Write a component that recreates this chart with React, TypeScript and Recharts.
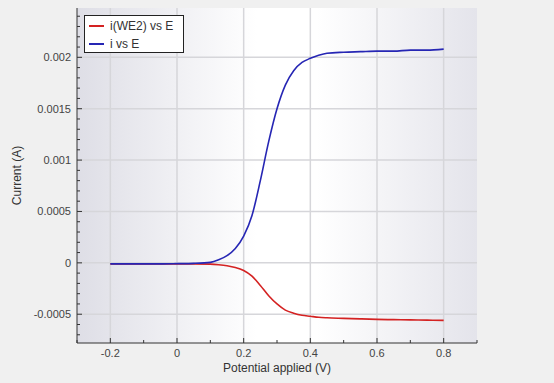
import React from 'react';
import { ComposedChart, Line, XAxis, YAxis, ReferenceLine, ReferenceArea } from 'recharts';

// potential applied (V)
const potential = [
  -0.2, -0.15, -0.1, -0.05, 0, 0.05, 0.1, 0.125, 0.15, 0.175, 0.2, 0.225, 0.25, 0.275,
  0.3, 0.325, 0.35, 0.375, 0.4, 0.425, 0.45, 0.5, 0.55, 0.6, 0.65, 0.7, 0.75, 0.8,
];
// i vs E (A)
const iTotal = [
  -0.00001, -0.00001, -0.00001, -0.00001, -0.000008, -0.000005, 0.000005, 0.00003, 0.00007,
  0.00014, 0.00026, 0.00046, 0.0008, 0.00118, 0.0015, 0.00173, 0.00187, 0.00195, 0.00199,
  0.00202, 0.00204, 0.00205, 0.002055, 0.00206, 0.00206, 0.00207, 0.00207, 0.00208,
];
// i(WE2) vs E (A)
const iWE2 = [
  -0.00001, -0.00001, -0.00001, -0.00001, -0.00001, -0.00001, -0.000012, -0.000018, -0.000028,
  -0.000045, -0.000075, -0.00013, -0.00022, -0.00032, -0.0004, -0.00046, -0.00049, -0.00051,
  -0.00052, -0.00053, -0.000535, -0.00054, -0.000545, -0.00055, -0.000553, -0.000555,
  -0.000557, -0.00056,
];

const xMajor = [-0.2, 0, 0.2, 0.4, 0.6, 0.8];
const xAllTicks = [-0.3, -0.2, -0.1, 0, 0.1, 0.2, 0.3, 0.4, 0.5, 0.6, 0.7, 0.8, 0.9];
const yMajor = [-0.0005, 0, 0.0005, 0.001, 0.0015, 0.002];
const yAllTicks = [
  -0.0007, -0.0006, -0.0005, -0.0004, -0.0003, -0.0002, -0.0001, 0, 0.0001, 0.0002, 0.0003,
  0.0004, 0.0005, 0.0006, 0.0007, 0.0008, 0.0009, 0.001, 0.0011, 0.0012, 0.0013, 0.0014,
  0.0015, 0.0016, 0.0017, 0.0018, 0.0019, 0.002, 0.0021, 0.0022, 0.0023, 0.0024,
];
const xDomain: [number, number] = [-0.3, 0.9];
const yDomain: [number, number] = [-0.00078, 0.00248];

const seriesNames = ['i(WE2) vs E', 'i vs E'];
const seriesColors = ['#d42222', '#2626b4'];

const data = potential.map((e, i) => ({ e, total: iTotal[i], we2: iWE2[i] }));

const FONT = 'Arial, "Liberation Sans", sans-serif';
const TICK_MARGIN = 6;

const isMajor = (list: number[], v: number) => list.some(m => Math.abs(m - v) < 1e-9);

const BottomTick = (props: any) => {
  const { x, y, payload } = props;
  const axisY = y - TICK_MARGIN;
  const major = isMajor(xMajor, payload.value);
  return (
    <g>
      <line x1={x} x2={x} y1={axisY} y2={axisY - (major ? 5 : 3)} stroke="#333" />
      {major && (
        <text x={x} y={axisY + 10} textAnchor="middle" dominantBaseline="central" fontSize={11} fill="#444" fontFamily={FONT}>
          {payload.value}
        </text>
      )}
    </g>
  );
};

const TopTick = (props: any) => {
  const { x, y, payload } = props;
  const major = isMajor(xMajor, payload.value);
  return <line x1={x} x2={x} y1={y} y2={y + (major ? 5 : 3)} stroke="#333" />;
};

const LeftTick = (props: any) => {
  const { x, y, payload } = props;
  const axisX = x + TICK_MARGIN;
  const major = isMajor(yMajor, payload.value);
  return (
    <g>
      <line x1={axisX} x2={axisX + (major ? 5 : 3)} y1={y} y2={y} stroke="#333" />
      {major && (
        <text x={axisX - 6} y={y} textAnchor="end" dominantBaseline="central" fontSize={11} fill="#444" fontFamily={FONT}>
          {payload.value}
        </text>
      )}
    </g>
  );
};

const RightTick = (props: any) => {
  const { x, y, payload } = props;
  const major = isMajor(yMajor, payload.value);
  return <line x1={x} x2={x - (major ? 5 : 3)} y1={y} y2={y} stroke="#333" />;
};

// legend box drawn over the plot, top-left corner
const LegendBox = () => (
  <div
    style={{
      position: 'absolute',
      left: 84,
      top: 15,
      width: 98,
      height: 36,
      background: '#fff',
      border: '1px solid #222',
      fontFamily: FONT,
      fontSize: 12,
      color: '#333',
    }}
  >
    {seriesNames.map((name, i) => (
      <div key={name} style={{ display: 'flex', alignItems: 'center', height: 18, marginTop: i === 0 ? 1 : 0 }}>
        <div style={{ width: 15, height: 2, background: seriesColors[i], marginLeft: 4, marginRight: 6 }} />
        <span>{name}</span>
      </div>
    ))}
  </div>
);

export default function App() {
  return (
    <div style={{ position: 'fixed', left: 0, top: 0, width: 554, height: 383, background: '#f0f0f0' }}>
      <ComposedChart width={554} height={383} data={data} margin={{ top: 8, right: 77, bottom: 0, left: 0 }}>
        <defs>
          <linearGradient id="plotBg" x1="0" y1="0" x2="1" y2="0">
            <stop offset="0%" stopColor="#dedee6" />
            <stop offset="45%" stopColor="#ffffff" />
            <stop offset="60%" stopColor="#ffffff" />
            <stop offset="100%" stopColor="#e4e4eb" />
          </linearGradient>
        </defs>
        <XAxis
          xAxisId="b"
          dataKey="e"
          type="number"
          domain={xDomain}
          ticks={xAllTicks}
          interval={0}
          height={40}
          tickSize={0}
          tickMargin={TICK_MARGIN}
          tickLine={false}
          tick={<BottomTick />}
          axisLine={{ stroke: '#333' }}
          allowDataOverflow
          label={({ viewBox }: any) => (
            <text x={viewBox.x + viewBox.width / 2} y={viewBox.y + 25} textAnchor="middle" dominantBaseline="central" fontSize={12} fill="#333" fontFamily={FONT}>
              Potential applied (V)
            </text>
          )}
        />
        <XAxis
          xAxisId="t"
          orientation="top"
          dataKey="e"
          type="number"
          domain={xDomain}
          ticks={xAllTicks}
          interval={0}
          height={0}
          tickSize={0}
          tickMargin={0}
          tickLine={false}
          tick={<TopTick />}
          axisLine={{ stroke: '#333' }}
          allowDataOverflow
        />
        <YAxis
          yAxisId="l"
          type="number"
          domain={yDomain}
          ticks={yAllTicks}
          interval={0}
          width={77}
          tickSize={0}
          tickMargin={TICK_MARGIN}
          tickLine={false}
          tick={<LeftTick />}
          axisLine={{ stroke: '#333' }}
          allowDataOverflow
          label={({ viewBox }: any) => (
            <text
              x={viewBox.x + 17}
              y={viewBox.y + viewBox.height / 2}
              textAnchor="middle"
              dominantBaseline="central"
              fontSize={12}
              fill="#333"
              fontFamily={FONT}
              transform={`rotate(-90 ${viewBox.x + 17} ${viewBox.y + viewBox.height / 2})`}
            >
              Current (A)
            </text>
          )}
        />
        <YAxis
          yAxisId="r"
          orientation="right"
          type="number"
          domain={yDomain}
          ticks={yAllTicks}
          interval={0}
          width={0}
          tickSize={0}
          tickMargin={0}
          tickLine={false}
          tick={<RightTick />}
          axisLine={{ stroke: '#333' }}
          allowDataOverflow
        />
        <ReferenceArea
          xAxisId="b"
          yAxisId="l"
          x1={xDomain[0]}
          x2={xDomain[1]}
          y1={yDomain[0]}
          y2={yDomain[1]}
          fill="url(#plotBg)"
          fillOpacity={1}
          stroke="none"
        />
        {xMajor.map(v => (
          <ReferenceLine key={'x' + v} xAxisId="b" yAxisId="l" x={v} stroke="#d6d6da" strokeWidth={1.5} />
        ))}
        {yMajor.map(v => (
          <ReferenceLine key={'y' + v} xAxisId="b" yAxisId="l" y={v} stroke="#d6d6da" strokeWidth={1.5} />
        ))}
        <Line
          xAxisId="b"
          yAxisId="l"
          type="monotone"
          dataKey="we2"
          name={seriesNames[0]}
          stroke={seriesColors[0]}
          strokeWidth={1.6}
          dot={false}
          isAnimationActive={false}
        />
        <Line
          xAxisId="b"
          yAxisId="l"
          type="monotone"
          dataKey="total"
          name={seriesNames[1]}
          stroke={seriesColors[1]}
          strokeWidth={1.6}
          dot={false}
          isAnimationActive={false}
        />
      </ComposedChart>
      <LegendBox />
    </div>
  );
}
